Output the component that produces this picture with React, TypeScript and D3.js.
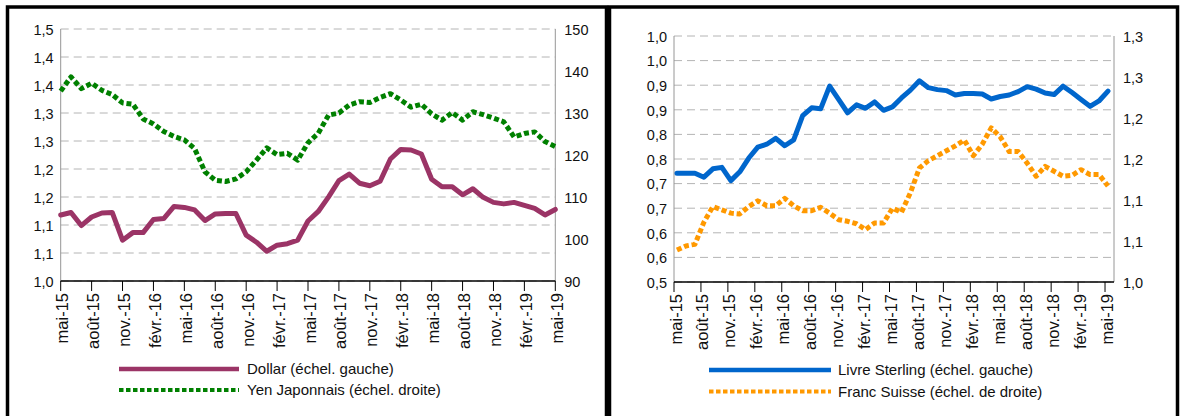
import React from "react";
import * as d3 from "d3";

// Monthly observations, May 2015 to May 2019 (49 months)
const tickLabels = [
  "mai-15", "août-15", "nov.-15", "févr.-16", "mai-16", "août-16", "nov.-16", "févr.-17",
  "mai-17", "août-17", "nov.-17", "févr.-18", "mai-18", "août-18", "nov.-18", "févr.-19", "mai-19",
];

const dollar = [
  1.131, 1.136, 1.110, 1.127, 1.135, 1.136, 1.081, 1.096, 1.096, 1.122,
  1.124, 1.148, 1.146, 1.141, 1.120, 1.133, 1.134, 1.134, 1.091, 1.077,
  1.059, 1.071, 1.074, 1.081, 1.119, 1.138, 1.167, 1.199, 1.212, 1.194,
  1.189, 1.198, 1.242, 1.261, 1.260, 1.252, 1.202, 1.187, 1.187, 1.171,
  1.183, 1.166, 1.156, 1.153, 1.156, 1.150, 1.144, 1.131, 1.142,
];

const yen = [
  135.2, 138.6, 135.8, 137.1, 135.4, 134.4, 132.4, 132.1, 128.6, 127.4,
  125.6, 124.4, 123.6, 121.5, 116.0, 114.0, 113.7, 114.3, 116.0, 118.8,
  121.7, 120.1, 120.4, 118.8, 122.9, 125.2, 129.5, 130.0, 131.9, 132.7,
  132.5, 133.7, 134.6, 133.1, 131.4, 132.1, 129.8, 128.3, 130.1, 128.3,
  130.3, 129.6, 128.8, 127.9, 124.3, 125.1, 125.5, 123.2, 122.0,
];

const livreSterling = [
  0.721, 0.721, 0.721, 0.713, 0.730, 0.733, 0.706, 0.724, 0.752, 0.774,
  0.780, 0.792, 0.777, 0.789, 0.838, 0.854, 0.852, 0.898, 0.871, 0.844,
  0.860, 0.853, 0.866, 0.849, 0.856, 0.874, 0.890, 0.909, 0.895, 0.891,
  0.889, 0.880, 0.883, 0.883, 0.882, 0.872, 0.877, 0.880, 0.887, 0.897,
  0.892, 0.884, 0.881, 0.898, 0.885, 0.871, 0.857, 0.868, 0.888,
];

const francSuisse = [
  1.039, 1.044, 1.046, 1.073, 1.092, 1.088, 1.084, 1.083, 1.092, 1.099,
  1.093, 1.093, 1.102, 1.093, 1.087, 1.087, 1.091, 1.084, 1.076, 1.074,
  1.071, 1.064, 1.072, 1.072, 1.090, 1.085, 1.109, 1.139, 1.148, 1.154,
  1.160, 1.166, 1.173, 1.154, 1.168, 1.188, 1.177, 1.159, 1.159, 1.145,
  1.129, 1.141, 1.135, 1.129, 1.130, 1.137, 1.131, 1.131, 1.117,
];

const dollarAxisLabels = ["1,0", "1,1", "1,1", "1,2", "1,2", "1,3", "1,3", "1,4", "1,4", "1,5"];
const yenAxisLabels = ["90", "100", "110", "120", "130", "140", "150"];
const sterlingAxisLabels = ["0,5", "0,6", "0,6", "0,7", "0,7", "0,8", "0,8", "0,9", "0,9", "1,0", "1,0"];
const francAxisLabels = ["1,0", "1,1", "1,1", "1,2", "1,2", "1,3", "1,3"];

const FONT = "'Liberation Sans', Arial, Helvetica, sans-serif";

type Series = {
  label: string;
  values: number[];
  side: "left" | "right";
  color: string;
  dotted: boolean;
};

type PanelProps = {
  frameX0: number;
  frameX1: number;
  plotX0: number;
  plotX1: number;
  plotY0: number;
  plotY1: number;
  xMax: number;
  xShift: number;
  leftDomain: [number, number];
  leftLabels: string[];
  rightDomain: [number, number];
  rightLabels: string[];
  series: Series[];
  legendX0: number;
  legendX1: number;
  legendTextX: number;
  legendY: number[];
};

function Panel(p: PanelProps) {
  const x = d3.scaleLinear().domain([0, p.xMax]).range([p.plotX0, p.plotX1]);
  const yL = d3.scaleLinear().domain(p.leftDomain).range([p.plotY1, p.plotY0]);
  const yR = d3.scaleLinear().domain(p.rightDomain).range([p.plotY1, p.plotY0]);

  const nL = p.leftLabels.length - 1;
  const leftTicks = d3.range(nL + 1).map(
    (i) => p.leftDomain[0] + (i * (p.leftDomain[1] - p.leftDomain[0])) / nL
  );
  const nR = p.rightLabels.length - 1;
  const rightTicks = d3.range(nR + 1).map(
    (i) => p.rightDomain[0] + (i * (p.rightDomain[1] - p.rightDomain[0])) / nR
  );
  const monthTicks = d3.range(0, 49, 3);

  const lineFor = (s: Series) =>
    d3
      .line<number>()
      .x((_, i) => x(i + p.xShift))
      .y((v) => (s.side === "left" ? yL(v) : yR(v)))(s.values) || "";

  return (
    <g>
      {/* frame */}
      <path
        d={`M${p.frameX0},430 V7 H${p.frameX1} V430`}
        fill="none"
        stroke="#000"
        strokeWidth={3.5}
      />
      {/* gridlines */}
      {leftTicks.map((t, i) => (
        <line
          key={"g" + i}
          x1={p.plotX0}
          x2={p.plotX1}
          y1={yL(t)}
          y2={yL(t)}
          stroke="#b4b4b4"
          strokeWidth={1}
          strokeDasharray="8,5"
        />
      ))}
      {/* side axes */}
      <line x1={p.plotX0} x2={p.plotX0} y1={p.plotY0} y2={p.plotY1} stroke="#969696" strokeWidth={1} />
      <line x1={p.plotX1} x2={p.plotX1} y1={p.plotY0} y2={p.plotY1} stroke="#969696" strokeWidth={1} />
      {/* left labels */}
      {leftTicks.map((t, i) => (
        <text
          key={"l" + i}
          x={p.plotX0 - 7}
          y={yL(t)}
          dy="0.4em"
          textAnchor="end"
          fontSize={14.5}
          fontFamily={FONT}
          fill="#111"
        >
          {p.leftLabels[i]}
        </text>
      ))}
      {/* right labels */}
      {rightTicks.map((t, i) => (
        <text
          key={"r" + i}
          x={p.plotX1 + 9}
          y={yR(t)}
          dy="0.4em"
          textAnchor="start"
          fontSize={14.5}
          fontFamily={FONT}
          fill="#111"
        >
          {p.rightLabels[i]}
        </text>
      ))}
      {/* series */}
      {p.series.map((s, i) => (
        <path
          key={"s" + i}
          d={lineFor(s)}
          fill="none"
          stroke={s.color}
          strokeWidth={5}
          strokeLinejoin="round"
          strokeLinecap={s.dotted ? "butt" : "round"}
          strokeDasharray={s.dotted ? "5,2.8" : undefined}
        />
      ))}
      {/* category axis */}
      <line x1={p.plotX0} x2={p.plotX1} y1={p.plotY1} y2={p.plotY1} stroke="#000" strokeWidth={1.5} />
      {monthTicks.map((m, i) => (
        <g key={"t" + i}>
          <line x1={x(m)} x2={x(m)} y1={p.plotY1} y2={p.plotY1 + 10} stroke="#000" strokeWidth={1} />
          <text
            transform={`translate(${x(m) + 7.5},${p.plotY1 + 12}) rotate(-90)`}
            textAnchor="end"
            fontSize={16.5}
            fontFamily={FONT}
            fill="#111"
          >
            {tickLabels[i]}
          </text>
        </g>
      ))}
      {/* legend */}
      {p.series.map((s, i) => (
        <g key={"lg" + i}>
          <line
            x1={p.legendX0}
            x2={p.legendX1}
            y1={p.legendY[i]}
            y2={p.legendY[i]}
            stroke={s.color}
            strokeWidth={s.dotted ? 4 : 4.5}
            strokeDasharray={s.dotted ? "4.5,2.5" : undefined}
          />
          <text
            x={p.legendTextX}
            y={p.legendY[i]}
            dy="0.36em"
            fontSize={15}
            fontFamily={FONT}
            fill="#111"
          >
            {s.label}
          </text>
        </g>
      ))}
    </g>
  );
}

export default function App() {
  return (
    <div style={{ position: "absolute", left: 0, top: 0, width: 1180, height: 416, background: "#fff" }}>
      <svg width={1180} height={416} style={{ display: "block" }}>
        <rect width={1180} height={416} fill="#fff" />
        <Panel
          frameX0={7.5}
          frameX1={606.5}
          plotX0={60.7}
          plotX1={555.3}
          plotY0={29}
          plotY1={281}
          xMax={48}
          xShift={0}
          leftDomain={[1.0, 1.5]}
          leftLabels={dollarAxisLabels}
          rightDomain={[90, 150]}
          rightLabels={yenAxisLabels}
          series={[
            { label: "Dollar (échel. gauche)", values: dollar, side: "left", color: "#9b3466", dotted: false },
            { label: "Yen Japonnais (échel. droite)", values: yen, side: "right", color: "#008000", dotted: true },
          ]}
          legendX0={119}
          legendX1={239}
          legendTextX={247}
          legendY={[369, 390]}
        />
        <Panel
          frameX0={609.5}
          frameX1={1177.5}
          plotX0={674}
          plotX1={1114}
          plotY0={36}
          plotY1={282}
          xMax={49}
          xShift={0.33}
          leftDomain={[0.5, 1.0]}
          leftLabels={sterlingAxisLabels}
          rightDomain={[1.0, 1.3]}
          rightLabels={francAxisLabels}
          series={[
            { label: "Livre Sterling (échel. gauche)", values: livreSterling, side: "left", color: "#0066cc", dotted: false },
            { label: "Franc Suisse (échel. de droite)", values: francSuisse, side: "right", color: "#ff9900", dotted: true },
          ]}
          legendX0={709}
          legendX1={831}
          legendTextX={838}
          legendY={[370, 391.5]}
        />
      </svg>
    </div>
  );
}
